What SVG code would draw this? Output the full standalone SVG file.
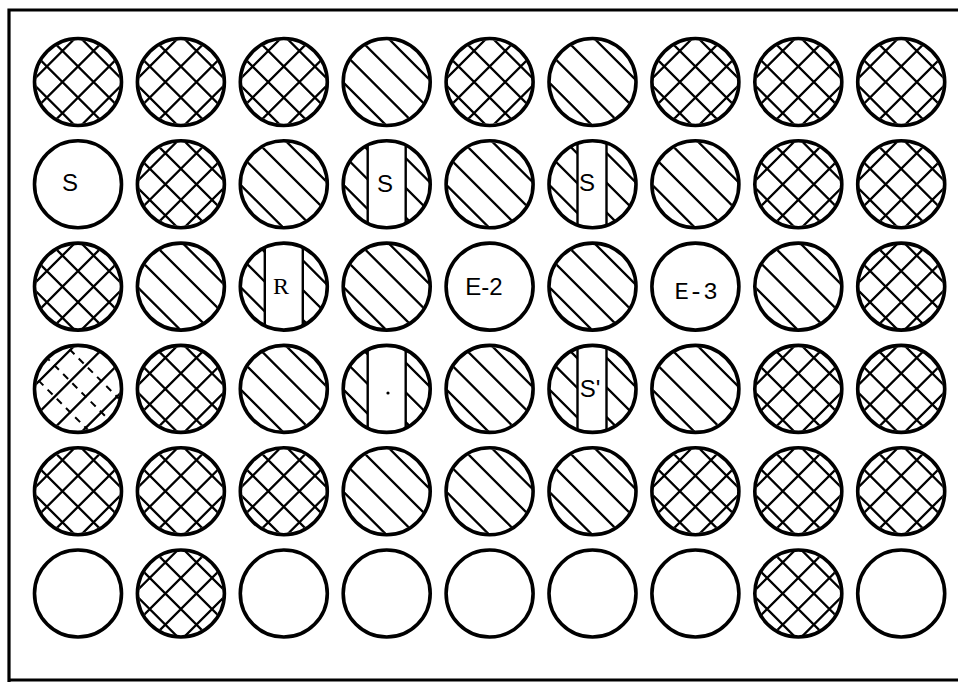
<svg xmlns="http://www.w3.org/2000/svg" xmlns:xlink="http://www.w3.org/1999/xlink" width="958" height="682" viewBox="0 0 958 682">
<style>
.ring{fill:none;stroke:#000;stroke-width:3.6}
.h{fill:none;stroke:#000;stroke-width:2.3}
.hd{fill:none;stroke:#000;stroke-width:2;stroke-dasharray:7 6}
.bar{fill:none;stroke:#000;stroke-width:2.4}
.frame{fill:none;stroke:#000;stroke-width:3.2}
.lbl{font-family:"Liberation Sans",Arial,sans-serif;font-size:24px;fill:#000;text-anchor:middle}
.lblm{font-family:"Liberation Mono","Courier New",monospace;font-size:24px;fill:#000;text-anchor:middle}
.lbls{font-family:"Liberation Serif","Times New Roman",serif;font-size:24px;fill:#000;text-anchor:middle}
</style>
<defs>
<clipPath id="cc"><circle r="42"/></clipPath>
<clipPath id="cw"><path d="M-19,-39.1 A43.5 43.5 0 0 0 -19,39.1 Z M19,-39.1 A43.5 43.5 0 0 1 19,39.1 Z"/></clipPath>
<clipPath id="cn"><path d="M-15,-40.8 A43.5 43.5 0 0 0 -15,40.8 Z M14,-41.2 A43.5 43.5 0 0 1 14,41.2 Z"/></clipPath>
<g id="lines-d"><path class="h" transform="rotate(45)" d="M-60 -32H60M-60 -11H60M-60 10H60M-60 31H60"/></g>
<g id="lines-x"><path class="h" transform="rotate(45)" d="M-60 -33H60M-60 -11H60M-60 11H60M-60 33H60M-33 -60V60M-11 -60V60M11 -60V60M33 -60V60"/></g>
<g id="empty"><circle class="ring" r="43.5"/></g>
<g id="diag"><g clip-path="url(#cc)"><use xlink:href="#lines-d"/></g><circle class="ring" r="43.5"/></g>
<g id="cross"><g clip-path="url(#cc)"><use xlink:href="#lines-x"/></g><circle class="ring" r="43.5"/></g>
<g id="splitw"><g clip-path="url(#cw)"><use xlink:href="#lines-d"/></g><path class="bar" d="M-19,-39.1V39.1M19,-39.1V39.1"/><circle class="ring" r="43.5"/></g>
<g id="splitn"><g clip-path="url(#cn)"><use xlink:href="#lines-d"/></g><path class="bar" d="M-15,-40.8V40.8M14,-41.2V41.2"/><circle class="ring" r="43.5"/></g>
<g id="mixed"><g clip-path="url(#cc)"><path class="h" transform="rotate(45)" d="M-33 -60V60M-11 -60V60M11 -60V60M33 -60V60"/><path class="hd" transform="rotate(45)" d="M-60 -22H60M-60 0H60M-60 22H60"/></g><circle class="ring" r="43.5"/></g>
</defs>

<g id="frame"><path class="frame" d="M958,10 H9 V682"/><path class="frame" d="M9,680 H958"/></g>

<g id="connectors"></g>

<!-- Row 1 -->
<g id="r1c1"><use xlink:href="#cross" x="78" y="82"/></g>
<g id="r1c2"><use xlink:href="#cross" x="180.9" y="82"/></g>
<g id="r1c3"><use xlink:href="#cross" x="283.8" y="82"/></g>
<g id="r1c4"><use xlink:href="#diag" x="386.7" y="82"/></g>
<g id="r1c5"><use xlink:href="#cross" x="489.6" y="82"/></g>
<g id="r1c6"><use xlink:href="#diag" x="592.5" y="82"/></g>
<g id="r1c7"><use xlink:href="#cross" x="695.4" y="82"/></g>
<g id="r1c8"><use xlink:href="#cross" x="798.3" y="82"/></g>
<g id="r1c9"><use xlink:href="#cross" x="901.2" y="82"/></g>

<!-- Row 2 -->
<g id="r2c1"><use xlink:href="#empty" x="78" y="184.3"/><text class="lbl" x="70" y="191" font-size="22">S</text></g>
<g id="r2c2"><use xlink:href="#cross" x="180.9" y="184.3"/></g>
<g id="r2c3"><use xlink:href="#diag" x="283.8" y="184.3"/></g>
<g id="r2c4"><use xlink:href="#splitw" x="386.7" y="184.3"/><text class="lbl" x="385" y="192">S</text></g>
<g id="r2c5"><use xlink:href="#diag" x="489.6" y="184.3"/></g>
<g id="r2c6"><use xlink:href="#splitn" x="592.5" y="184.3"/><text class="lbl" x="587" y="191">S</text></g>
<g id="r2c7"><use xlink:href="#diag" x="695.4" y="184.3"/></g>
<g id="r2c8"><use xlink:href="#cross" x="798.3" y="184.3"/></g>
<g id="r2c9"><use xlink:href="#cross" x="901.2" y="184.3"/></g>

<!-- Row 3 -->
<g id="r3c1"><use xlink:href="#cross" x="78" y="286.6"/></g>
<g id="r3c2"><use xlink:href="#diag" x="180.9" y="286.6"/></g>
<g id="r3c3"><use xlink:href="#splitw" x="283.8" y="286.6"/><text class="lbls" x="281" y="294">R</text></g>
<g id="r3c4"><use xlink:href="#diag" x="386.7" y="286.6"/></g>
<g id="r3c5"><use xlink:href="#empty" x="489.6" y="286.6"/><text class="lbl" x="484" y="295">E-2</text></g>
<g id="r3c6"><use xlink:href="#diag" x="592.5" y="286.6"/></g>
<g id="r3c7"><use xlink:href="#empty" x="695.4" y="286.6"/><text class="lblm" x="696" y="299">E-3</text></g>
<g id="r3c8"><use xlink:href="#diag" x="798.3" y="286.6"/></g>
<g id="r3c9"><use xlink:href="#cross" x="901.2" y="286.6"/></g>

<!-- Row 4 -->
<g id="r4c1"><use xlink:href="#mixed" x="78" y="388.9"/></g>
<g id="r4c2"><use xlink:href="#cross" x="180.9" y="388.9"/></g>
<g id="r4c3"><use xlink:href="#diag" x="283.8" y="388.9"/></g>
<g id="r4c4"><use xlink:href="#splitw" x="386.7" y="388.9"/><circle cx="388" cy="393" r="1.6" fill="#000"/></g>
<g id="r4c5"><use xlink:href="#diag" x="489.6" y="388.9"/></g>
<g id="r4c6"><use xlink:href="#splitn" x="592.5" y="388.9"/><text class="lbl" x="590" y="397" font-size="21">S'</text></g>
<g id="r4c7"><use xlink:href="#diag" x="695.4" y="388.9"/></g>
<g id="r4c8"><use xlink:href="#cross" x="798.3" y="388.9"/></g>
<g id="r4c9"><use xlink:href="#cross" x="901.2" y="388.9"/></g>

<!-- Row 5 -->
<g id="r5c1"><use xlink:href="#cross" x="78" y="491.2"/></g>
<g id="r5c2"><use xlink:href="#cross" x="180.9" y="491.2"/></g>
<g id="r5c3"><use xlink:href="#cross" x="283.8" y="491.2"/></g>
<g id="r5c4"><use xlink:href="#diag" x="386.7" y="491.2"/></g>
<g id="r5c5"><use xlink:href="#diag" x="489.6" y="491.2"/></g>
<g id="r5c6"><use xlink:href="#diag" x="592.5" y="491.2"/></g>
<g id="r5c7"><use xlink:href="#cross" x="695.4" y="491.2"/></g>
<g id="r5c8"><use xlink:href="#cross" x="798.3" y="491.2"/></g>
<g id="r5c9"><use xlink:href="#cross" x="901.2" y="491.2"/></g>

<!-- Row 6 -->
<g id="r6c1"><use xlink:href="#empty" x="78" y="593.5"/></g>
<g id="r6c2"><use xlink:href="#cross" x="180.9" y="593.5"/></g>
<g id="r6c3"><use xlink:href="#empty" x="283.8" y="593.5"/></g>
<g id="r6c4"><use xlink:href="#empty" x="386.7" y="593.5"/></g>
<g id="r6c5"><use xlink:href="#empty" x="489.6" y="593.5"/></g>
<g id="r6c6"><use xlink:href="#empty" x="592.5" y="593.5"/></g>
<g id="r6c7"><use xlink:href="#empty" x="695.4" y="593.5"/></g>
<g id="r6c8"><use xlink:href="#cross" x="798.3" y="593.5"/></g>
<g id="r6c9"><use xlink:href="#empty" x="901.2" y="593.5"/></g>
</svg>
